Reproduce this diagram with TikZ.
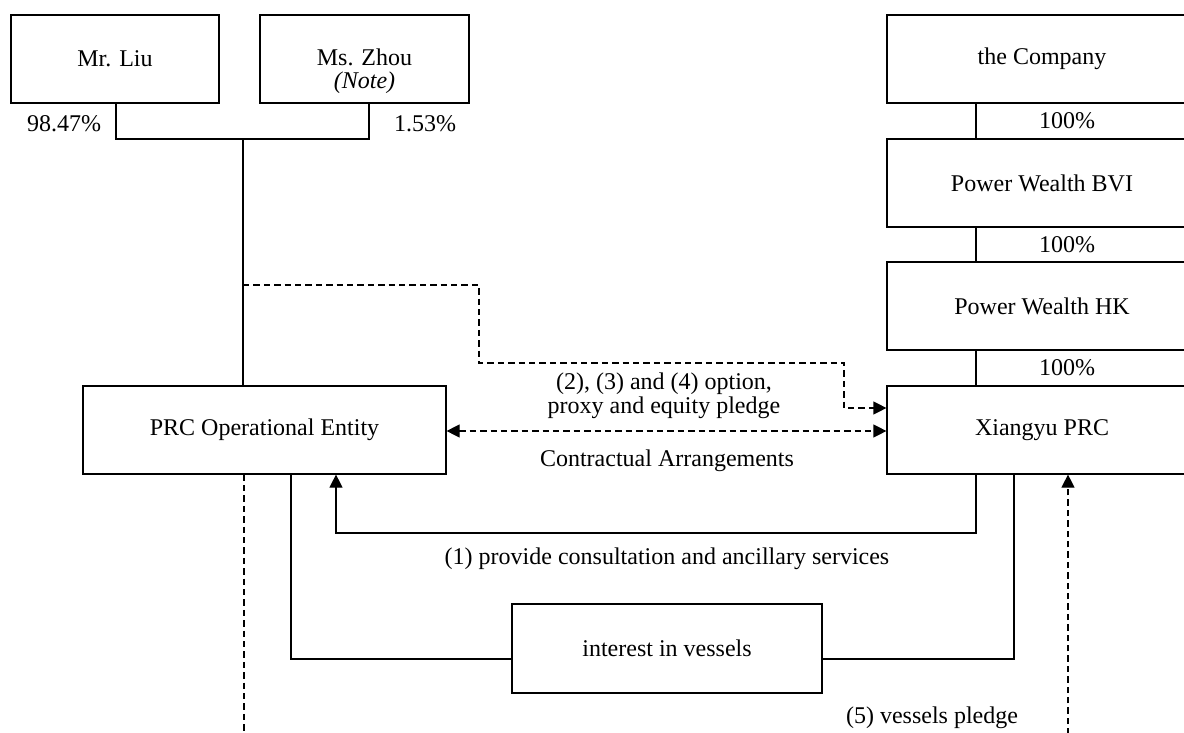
\documentclass[tikz,border=0pt]{standalone}
\usepackage{fontspec}
\setmainfont{Liberation Serif}
\usetikzlibrary{arrows.meta}
\begin{document}
\begin{tikzpicture}[x=0.5pt,y=-0.5pt,
  font=\fontsize{12}{11.75}\selectfont,
  box/.style={draw,line width=0.6pt,rectangle,inner sep=0pt,align=center},
  ln/.style={line width=0.6pt},
  dsh/.style={line width=0.6pt,dash pattern=on 3.2pt off 2pt},
  tip/.style={-{Triangle[length=6.5pt,width=6.5pt]}},
  dtip/.style={{Triangle[length=6.5pt,width=6.5pt]}-{Triangle[length=6.5pt,width=6.5pt]}},
  lbl/.style={inner sep=0pt,align=center}]
\useasboundingbox (0,0) rectangle (1184,733);
\clip (0,0) rectangle (1184,733);
% boxes
\node[box,minimum width=104pt,minimum height=44pt] (liu) at (115,59) {Mr. Liu};
\node[box,minimum width=104.5pt,minimum height=44pt] (zhou) at (364.5,59) {};
\node[lbl] (zhoutxt) at (364.5,71) {Ms. Zhou\\\textit{(Note)}};
\node[box,minimum width=155pt,minimum height=44pt] (comp) at (1042,59) {the Company};
\node[box,minimum width=155pt,minimum height=44pt] (bvi) at (1042,183) {Power Wealth BVI};
\node[box,minimum width=155pt,minimum height=44pt] (hk) at (1042,306) {Power Wealth HK};
\node[box,minimum width=155pt,minimum height=44pt] (xy) at (1042,430) {Xiangyu PRC};
\node[box,minimum width=181.5pt,minimum height=44pt] (prc) at (264.5,430) {PRC Operational Entity};
\node[box,minimum width=155pt,minimum height=44.5pt] (int) at (667,648.5) {interest in vessels};
% percentages
\node[lbl] (p1) at (64,124) {98.47\%};
\node[lbl] (p2) at (425,124) {1.53\%};
\node[lbl] (q1) at (1067,121) {100\%};
\node[lbl] (q2) at (1067,245) {100\%};
\node[lbl] (q3) at (1067,368) {100\%};
% ownership lines
\coordinate (j) at (243,139);
\draw[ln] ([xshift=0.5pt]liu.south) -- ([xshift=0.5pt]liu.south |- j) -- ([xshift=2.25pt]zhou.south |- j) -- ([xshift=2.25pt]zhou.south);
\draw[ln] (j) -- (j |- prc.north);
\coordinate (cx) at (976,0);
\draw[ln] (comp.south -| cx) -- (bvi.north -| cx);
\draw[ln] (bvi.south -| cx) -- (hk.north -| cx);
\draw[ln] (hk.south -| cx) -- (xy.north -| cx);
% contractual arrangements
\coordinate (d0) at (243,285);
\coordinate (d1) at (479,363);
\coordinate (d2) at (844,408);
\draw[dsh,tip] (d0) -| (d1) -| (d2) -- (d2 -| xy.west);
\coordinate (da) at (446,431);
\draw[dsh,dtip] (prc.east |- da) -- (xy.west |- da);
\node[lbl] (l234) at (664,396) {(2), (3) and (4) option,\\proxy and equity pledge};
\node[lbl] (lca) at (667,461) {Contractual Arrangements};
% (1) services
\coordinate (a1) at (976,533);
\coordinate (a2) at (336,533);
\draw[ln,tip] (xy.south -| a1) -- (a1) -- (a2) -- (a2 |- prc.south);
\node[lbl] (l1) at (667,559) {(1) provide consultation and ancillary services};
% interest in vessels
\coordinate (b1) at (291,659);
\coordinate (b2) at (1014,659);
\draw[ln] (prc.south -| b1) -- (b1) -- (b1 -| int.west);
\draw[ln] (int.east |- b2) -- (b2) -- (b2 |- xy.south);
% vessels pledge
\coordinate (c1) at (244,745);
\draw[dsh] (prc.south -| c1) -- (c1);
\coordinate (c2) at (1068,745);
\draw[dsh,tip] (c2) -- (c2 |- xy.south);
\node[lbl] (l5) at (932,718) {(5) vessels pledge};
\end{tikzpicture}
\end{document}
